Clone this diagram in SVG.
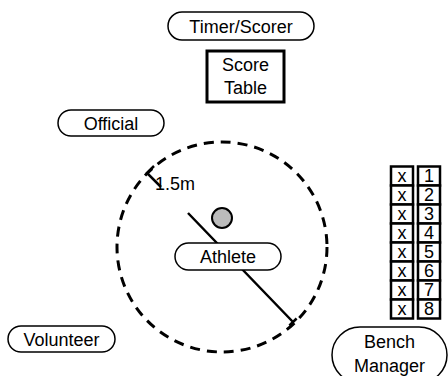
<svg xmlns="http://www.w3.org/2000/svg" width="448" height="376" viewBox="0 0 448 376">
<style>
text{font-family:"Liberation Sans",Arial,sans-serif;font-size:18px;fill:#000;text-anchor:middle;dominant-baseline:central}
.pill{fill:#fff;stroke:#000;stroke-width:1.5}
.cell{fill:#fff;stroke:#000;stroke-width:2.5}
.ln{stroke:#000;stroke-width:2.5;fill:none}
</style>
<rect width="448" height="376" fill="#fff"/>
<g id="zone">
<circle cx="222" cy="247" r="105" fill="none" stroke="#000" stroke-width="3" stroke-dasharray="10 7"/>
</g>
<g id="connectors">
<path class="ln" d="M154,166 L147,173 L161,187"/>
<path class="ln" d="M188,213 L293,322 M289.4,325.5 L296.6,318.5"/>
</g>
<g id="dim-label"><text x="175" y="184">1.5m</text></g>
<g id="ball"><circle cx="222" cy="218" r="10" fill="#bbb" stroke="#000" stroke-width="2"/></g>
<g id="timer"><rect class="pill" x="168" y="12" width="146" height="28" rx="14"/><text x="241" y="27">Timer/Scorer</text></g>
<g id="scoretable"><rect x="207" y="51" width="77" height="51" fill="#fff" stroke="#000" stroke-width="3"/><text x="245.5" y="65">Score</text><text x="245.5" y="88">Table</text></g>
<g id="official"><rect class="pill" x="58" y="110" width="106" height="26" rx="13"/><text x="111" y="124">Official</text></g>
<g id="athlete"><rect class="pill" x="175" y="243" width="106" height="27" rx="13.5"/><text x="228" y="257">Athlete</text></g>
<g id="volunteer"><rect class="pill" x="8" y="326" width="107" height="26" rx="13"/><text x="61.5" y="340">Volunteer</text></g>
<g id="bench-manager"><rect class="pill" x="332" y="327" width="115" height="56" rx="28"/><text x="389.5" y="342">Bench</text><text x="389.5" y="366">Manager</text></g>
<g id="bench">
<rect class="cell" x="391" y="166.5" width="22" height="19"/><rect class="cell" x="418" y="166.5" width="22" height="19"/>
<rect class="cell" x="391" y="185.5" width="22" height="19"/><rect class="cell" x="418" y="185.5" width="22" height="19"/>
<rect class="cell" x="391" y="204.5" width="22" height="19"/><rect class="cell" x="418" y="204.5" width="22" height="19"/>
<rect class="cell" x="391" y="223.5" width="22" height="19"/><rect class="cell" x="418" y="223.5" width="22" height="19"/>
<rect class="cell" x="391" y="242.5" width="22" height="19"/><rect class="cell" x="418" y="242.5" width="22" height="19"/>
<rect class="cell" x="391" y="261.5" width="22" height="19"/><rect class="cell" x="418" y="261.5" width="22" height="19"/>
<rect class="cell" x="391" y="280.5" width="22" height="19"/><rect class="cell" x="418" y="280.5" width="22" height="19"/>
<rect class="cell" x="391" y="299.5" width="22" height="19"/><rect class="cell" x="418" y="299.5" width="22" height="19"/>
<text x="402" y="176">x</text><text x="424" y="176" style="text-anchor:start">1</text>
<text x="402" y="195">x</text><text x="424" y="195" style="text-anchor:start">2</text>
<text x="402" y="214">x</text><text x="424" y="214" style="text-anchor:start">3</text>
<text x="402" y="233">x</text><text x="424" y="233" style="text-anchor:start">4</text>
<text x="402" y="252">x</text><text x="424" y="252" style="text-anchor:start">5</text>
<text x="402" y="271">x</text><text x="424" y="271" style="text-anchor:start">6</text>
<text x="402" y="290">x</text><text x="424" y="290" style="text-anchor:start">7</text>
<text x="402" y="309">x</text><text x="424" y="309" style="text-anchor:start">8</text>
</g>
</svg>
